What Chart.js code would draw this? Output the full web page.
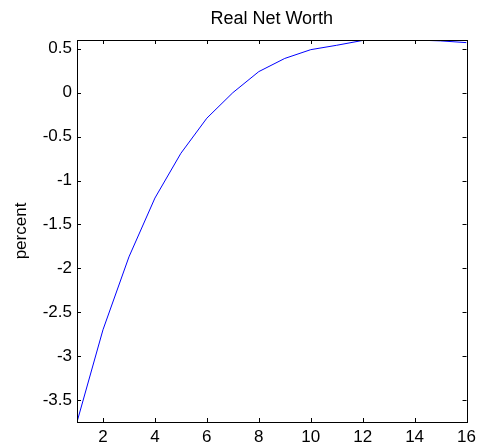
<!DOCTYPE html>
<html>
<head>
<meta charset="utf-8">
<script src="https://cdn.jsdelivr.net/npm/chart.js@4/dist/chart.umd.min.js"></script>
<style>
  html, body { margin: 0; padding: 0; background: #fff; }
  #wrap { width: 481px; height: 448px; }
</style>
</head>
<body>
<div id="wrap"><canvas id="grafico"></canvas></div>
<script>
// dados
const periodos = [1, 2, 3, 4, 5, 6, 7, 8, 9, 10, 11, 12, 13, 14, 15, 16];
const patrimonio = [-3.75, -2.70, -1.87, -1.20, -0.69, -0.29, 0.00, 0.24, 0.39, 0.49, 0.54, 0.595, 0.60, 0.60, 0.59, 0.57];
const ticksX = [2, 4, 6, 8, 10, 12, 14, 16];
const ticksY = [0.5, 0, -0.5, -1, -1.5, -2, -2.5, -3, -3.5];
const titulo = "Real Net Worth";

const fonte = "'Liberation Sans', Arial, sans-serif";

// caixa preta + marcas de tick para dentro (estilo matlab) + titulo centrado na area
const caixaPlugin = {
  id: "caixa",
  afterDraw(chart) {
    const ctx = chart.ctx;
    const a = chart.chartArea;
    const sx = chart.scales.x;
    const sy = chart.scales.y;
    const len = 4;
    ctx.save();
    ctx.strokeStyle = "#000";
    ctx.lineWidth = 1;
    ctx.beginPath();
    ticksX.forEach((v) => {
      const px = Math.round(sx.getPixelForValue(v)) + 0.5;
      ctx.moveTo(px, a.bottom);
      ctx.lineTo(px, a.bottom - len);
      ctx.moveTo(px, a.top);
      ctx.lineTo(px, a.top + len);
    });
    ticksY.forEach((v) => {
      const py = Math.round(sy.getPixelForValue(v)) + 0.5;
      ctx.moveTo(a.left, py);
      ctx.lineTo(a.left + len, py);
      ctx.moveTo(a.right, py);
      ctx.lineTo(a.right - len, py);
    });
    ctx.stroke();
    ctx.strokeRect(Math.round(a.left) + 0.5, Math.round(a.top) + 0.5,
      Math.round(a.right - a.left), Math.round(a.bottom - a.top));

    ctx.fillStyle = "#000";
    ctx.font = "18px " + fonte;
    ctx.textAlign = "center";
    ctx.textBaseline = "middle";
    ctx.fillText(titulo, (a.left + a.right) / 2, 19);
    ctx.restore();
  },
};

const data_grafico = {
  labels: periodos,
  datasets: [
    {
      data: patrimonio,
      borderColor: "#0000ff",
      borderWidth: 1,
      pointRadius: 0,
      tension: 0,
      fill: false,
    },
  ],
};

const config_grafico = {
  type: "line",
  data: data_grafico,
  options: {
    responsive: true,
    maintainAspectRatio: false,
    animation: false,
    layout: { padding: { top: 40, right: 14, bottom: 0, left: 0 } },
    plugins: {
      legend: { display: false },
      tooltip: { enabled: false },
      title: { display: false },
    },
    scales: {
      x: {
        type: "linear",
        min: 1,
        max: 16,
        grid: { display: false, drawTicks: false },
        border: { display: false },
        afterBuildTicks: (s) => { s.ticks = ticksX.map((v) => ({ value: v })); },
        afterFit: (s) => { s.height = 26; },
        ticks: {
          color: "#000",
          font: { family: fonte, size: 17 },
          padding: 5,
          maxRotation: 0,
          callback: (v) => String(v),
        },
      },
      y: {
        min: -3.75,
        max: 0.6,
        grid: { display: false, drawTicks: false },
        border: { display: false },
        afterBuildTicks: (s) => { s.ticks = ticksY.map((v) => ({ value: v })); },
        afterFit: (s) => { s.width = 77; },
        ticks: {
          color: "#000",
          font: { family: fonte, size: 17 },
          padding: 5,
          callback: (v) => String(v),
        },
        title: {
          display: true,
          text: "percent",
          color: "#000",
          font: { family: fonte, size: 17 },
          padding: { top: 11, bottom: 0 },
        },
      },
    },
  },
  plugins: [caixaPlugin],
};

const myChart = new Chart(document.getElementById("grafico"), config_grafico);
</script>
</body>
</html>
